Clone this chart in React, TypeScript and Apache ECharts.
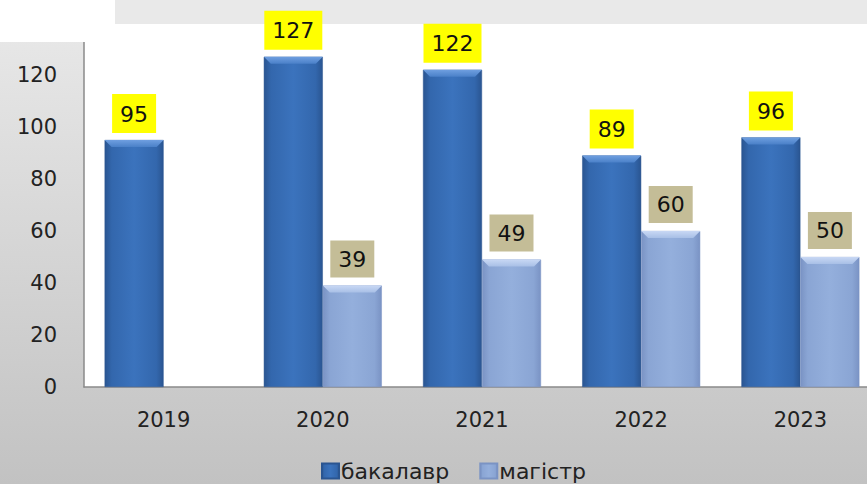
import React, { useEffect, useRef } from "react";
import * as echarts from "echarts";

const years = ["2019", "2020", "2021", "2022", "2023"];
const bachelor = [95, 127, 122, 89, 96];
const master = [null, 39, 49, 60, 50];
const seriesNames = ["бакалавр", "магістр"];

const FONT = "DejaVu Sans";
const BAR_W = 59;

export default function App() {
  const ref = useRef<HTMLDivElement>(null);
  useEffect(() => {
    document.body.style.margin = "0";
    const chart = echarts.init(ref.current!, null, { renderer: "svg" });
    const blue = new echarts.graphic.LinearGradient(0, 0, 1, 0, [
      { offset: 0, color: "#2a5591" },
      { offset: 0.12, color: "#3367ad" },
      { offset: 0.5, color: "#3b73bd" },
      { offset: 0.88, color: "#3367ad" },
      { offset: 1, color: "#2a5591" },
    ]);
    const light = new echarts.graphic.LinearGradient(0, 0, 1, 0, [
      { offset: 0, color: "#7a93c4" },
      { offset: 0.12, color: "#8aa5d4" },
      { offset: 0.5, color: "#94afdc" },
      { offset: 0.88, color: "#8aa5d4" },
      { offset: 1, color: "#7a93c4" },
    ]);
    const bevel = (data: (number | null)[], side: number, top: string, bottom: string) => ({
      type: "custom",
      silent: true,
      z: 5,
      data: data.map((v, i) => [i, v]),
      renderItem: (params: any, api: any) => {
        const v = api.value(1);
        if (v === null || v === undefined || isNaN(v)) return null;
        const p = api.coord([api.value(0), v]);
        const cx = p[0] + side * (BAR_W / 2);
        const x0 = cx - BAR_W / 2;
        const x1 = cx + BAR_W / 2;
        const y = p[1];
        const d = 7;
        return {
          type: "polygon",
          shape: {
            points: [
              [x0, y],
              [x1, y],
              [x1 - d, y + d],
              [x0 + d, y + d],
            ],
          },
          style: {
            fill: new echarts.graphic.LinearGradient(0, 0, 0, 1, [
              { offset: 0, color: top },
              { offset: 1, color: bottom },
            ]),
          },
        };
      },
    });
    chart.setOption({
      animation: false,
      backgroundColor: new echarts.graphic.LinearGradient(0, 0, 0, 1, [
        { offset: 0, color: "#eaeaea" },
        { offset: 1, color: "#c2c2c2" },
      ]),
      textStyle: { fontFamily: FONT },
      grid: {
        left: 84,
        top: 23,
        width: 796,
        height: 364,
        show: true,
        backgroundColor: "#ffffff",
        borderWidth: 0,
        containLabel: false,
      },
      graphic: [
        {
          type: "rect",
          z: 1,
          shape: { x: 115, y: 0, width: 765, height: 24 },
          style: { fill: "#e9e9e9" },
        },
        {
          type: "rect",
          z: 1,
          shape: { x: 0, y: 0, width: 115, height: 42 },
          style: { fill: "#ffffff" },
        },
      ],
      xAxis: {
        type: "category",
        data: years,
        axisLine: { show: true, lineStyle: { color: "#8a8a8a", width: 1.5 } },
        axisTick: { show: false },
        axisLabel: { color: "#222", fontSize: 21, fontFamily: FONT, margin: 22 },
      },
      yAxis: {
        type: "value",
        min: 0,
        max: 140,
        interval: 20,
        splitLine: { show: false },
        axisLine: { show: true, lineStyle: { color: "#8a8a8a", width: 1.5 } },
        axisTick: { show: false },
        axisLabel: {
          color: "#222",
          fontSize: 21,
          fontFamily: FONT,
          margin: 27,
          formatter: (v: number) => (v === 140 ? "" : String(v)),
        },
      },
      legend: {
        left: 316,
        top: 454,
        icon: "rect",
        itemWidth: 17,
        itemHeight: 15,
        itemGap: 30,
        textStyle: { fontSize: 22, lineHeight: 24, color: "#222", fontFamily: FONT, padding: [0, 0, 0, -3] },
        data: seriesNames,
      },
      series: [
        {
          name: seriesNames[0],
          type: "bar",
          data: bachelor,
          barWidth: BAR_W,
          barGap: "0%",
          itemStyle: { color: blue, borderColor: "#2a5591", borderWidth: 0.5 },
          label: {
            show: true,
            position: "top",
            distance: 7,
            backgroundColor: "#ffff00",
            color: "#111",
            fontSize: 22,
            lineHeight: 22,
            fontFamily: FONT,
            padding: [9, 8, 8, 8],
          },
        },
        {
          name: seriesNames[1],
          type: "bar",
          data: master,
          barWidth: BAR_W,
          itemStyle: { color: light, borderColor: "#7a93c4", borderWidth: 0.5 },
          label: {
            show: true,
            position: "top",
            distance: 8,
            backgroundColor: "#c4bd97",
            color: "#111",
            fontSize: 22,
            lineHeight: 21,
            fontFamily: FONT,
            padding: [8, 8, 8, 8],
          },
        },
        bevel(bachelor, -1, "#6f9fe0", "#4a80c8"),
        bevel(master, 1, "#c8d8f4", "#a8bfe6"),
      ],
    });
    return () => chart.dispose();
  }, []);
  return (
    <div style={{ width: 867, height: 484, overflow: "hidden" }}>
      <div ref={ref} style={{ width: 880, height: 484 }} />
    </div>
  );
}
